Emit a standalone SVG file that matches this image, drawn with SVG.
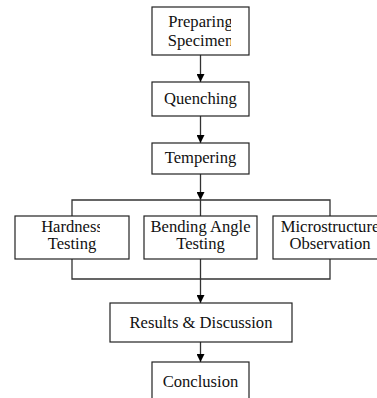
<svg xmlns="http://www.w3.org/2000/svg" width="377" height="398" viewBox="0 0 377 398">
<style>
.box{fill:#fff;stroke:#222;stroke-width:1.2}
.t{font-family:"Liberation Serif","Times New Roman",serif;font-size:16.6px;fill:#111;text-anchor:middle}
.ln{fill:none;stroke:#333;stroke-width:1.3}
</style>
<defs>
<marker id="ah" viewBox="0 0 10 10" refX="10" refY="5" markerWidth="8" markerHeight="8" markerUnits="userSpaceOnUse" orient="auto">
<path d="M0,0 L10,5 L0,10 z" fill="#000"/>
</marker>
<clipPath id="c1"><rect x="152" y="7" width="79" height="48"/></clipPath>
<clipPath id="c2"><rect x="15" y="216" width="85" height="43"/></clipPath>
</defs>
<rect width="377" height="398" fill="#fff"/>
<g id="connectors">
<line class="ln" x1="200.5" y1="55" x2="200.5" y2="82" marker-end="url(#ah)"/>
<line class="ln" x1="200.5" y1="116" x2="200.5" y2="143" marker-end="url(#ah)"/>
<line class="ln" x1="200.5" y1="174" x2="200.5" y2="200" marker-end="url(#ah)"/>
<polyline class="ln" points="72,216 72,200 330,200 330,216"/>
<line class="ln" x1="200.5" y1="200" x2="200.5" y2="216"/>
<polyline class="ln" points="72,259 72,279 330,279 330,259"/>
<line class="ln" x1="200.5" y1="259" x2="200.5" y2="303" marker-end="url(#ah)"/>
<line class="ln" x1="200.5" y1="342" x2="200.5" y2="362" marker-end="url(#ah)"/>
</g>
<g id="preparing">
<rect class="box" x="152" y="7" width="97" height="48"/>
<g clip-path="url(#c1)">
<text class="t" x="200.5" y="27">Preparing</text>
<text class="t" x="200.5" y="45.5">Specimen</text>
</g>
</g>
<g id="quenching">
<rect class="box" x="152" y="82" width="97" height="34"/>
<text class="t" x="200.5" y="104">Quenching</text>
</g>
<g id="tempering">
<rect class="box" x="152" y="143" width="97" height="31"/>
<text class="t" x="200.5" y="163">Tempering</text>
</g>
<g id="hardness">
<rect class="box" x="15" y="216" width="114" height="43"/>
<g clip-path="url(#c2)">
<text class="t" x="72" y="231.5">Hardness</text>
</g>
<text class="t" x="72" y="249">Testing</text>
</g>
<g id="bending">
<rect class="box" x="144" y="216" width="113" height="43"/>
<text class="t" x="200.5" y="231.5">Bending Angle</text>
<text class="t" x="200.5" y="249">Testing</text>
</g>
<g id="microstructure">
<rect class="box" x="273" y="216" width="114" height="43"/>
<text class="t" x="330" y="231.5">Microstructure</text>
<text class="t" x="330" y="249">Observation</text>
</g>
<g id="results">
<rect class="box" x="110" y="303" width="182" height="39"/>
<text class="t" x="201" y="328">Results &amp; Discussion</text>
</g>
<g id="conclusion">
<rect class="box" x="152" y="362" width="97" height="45"/>
<text class="t" x="200.5" y="387">Conclusion</text>
</g>
</svg>
